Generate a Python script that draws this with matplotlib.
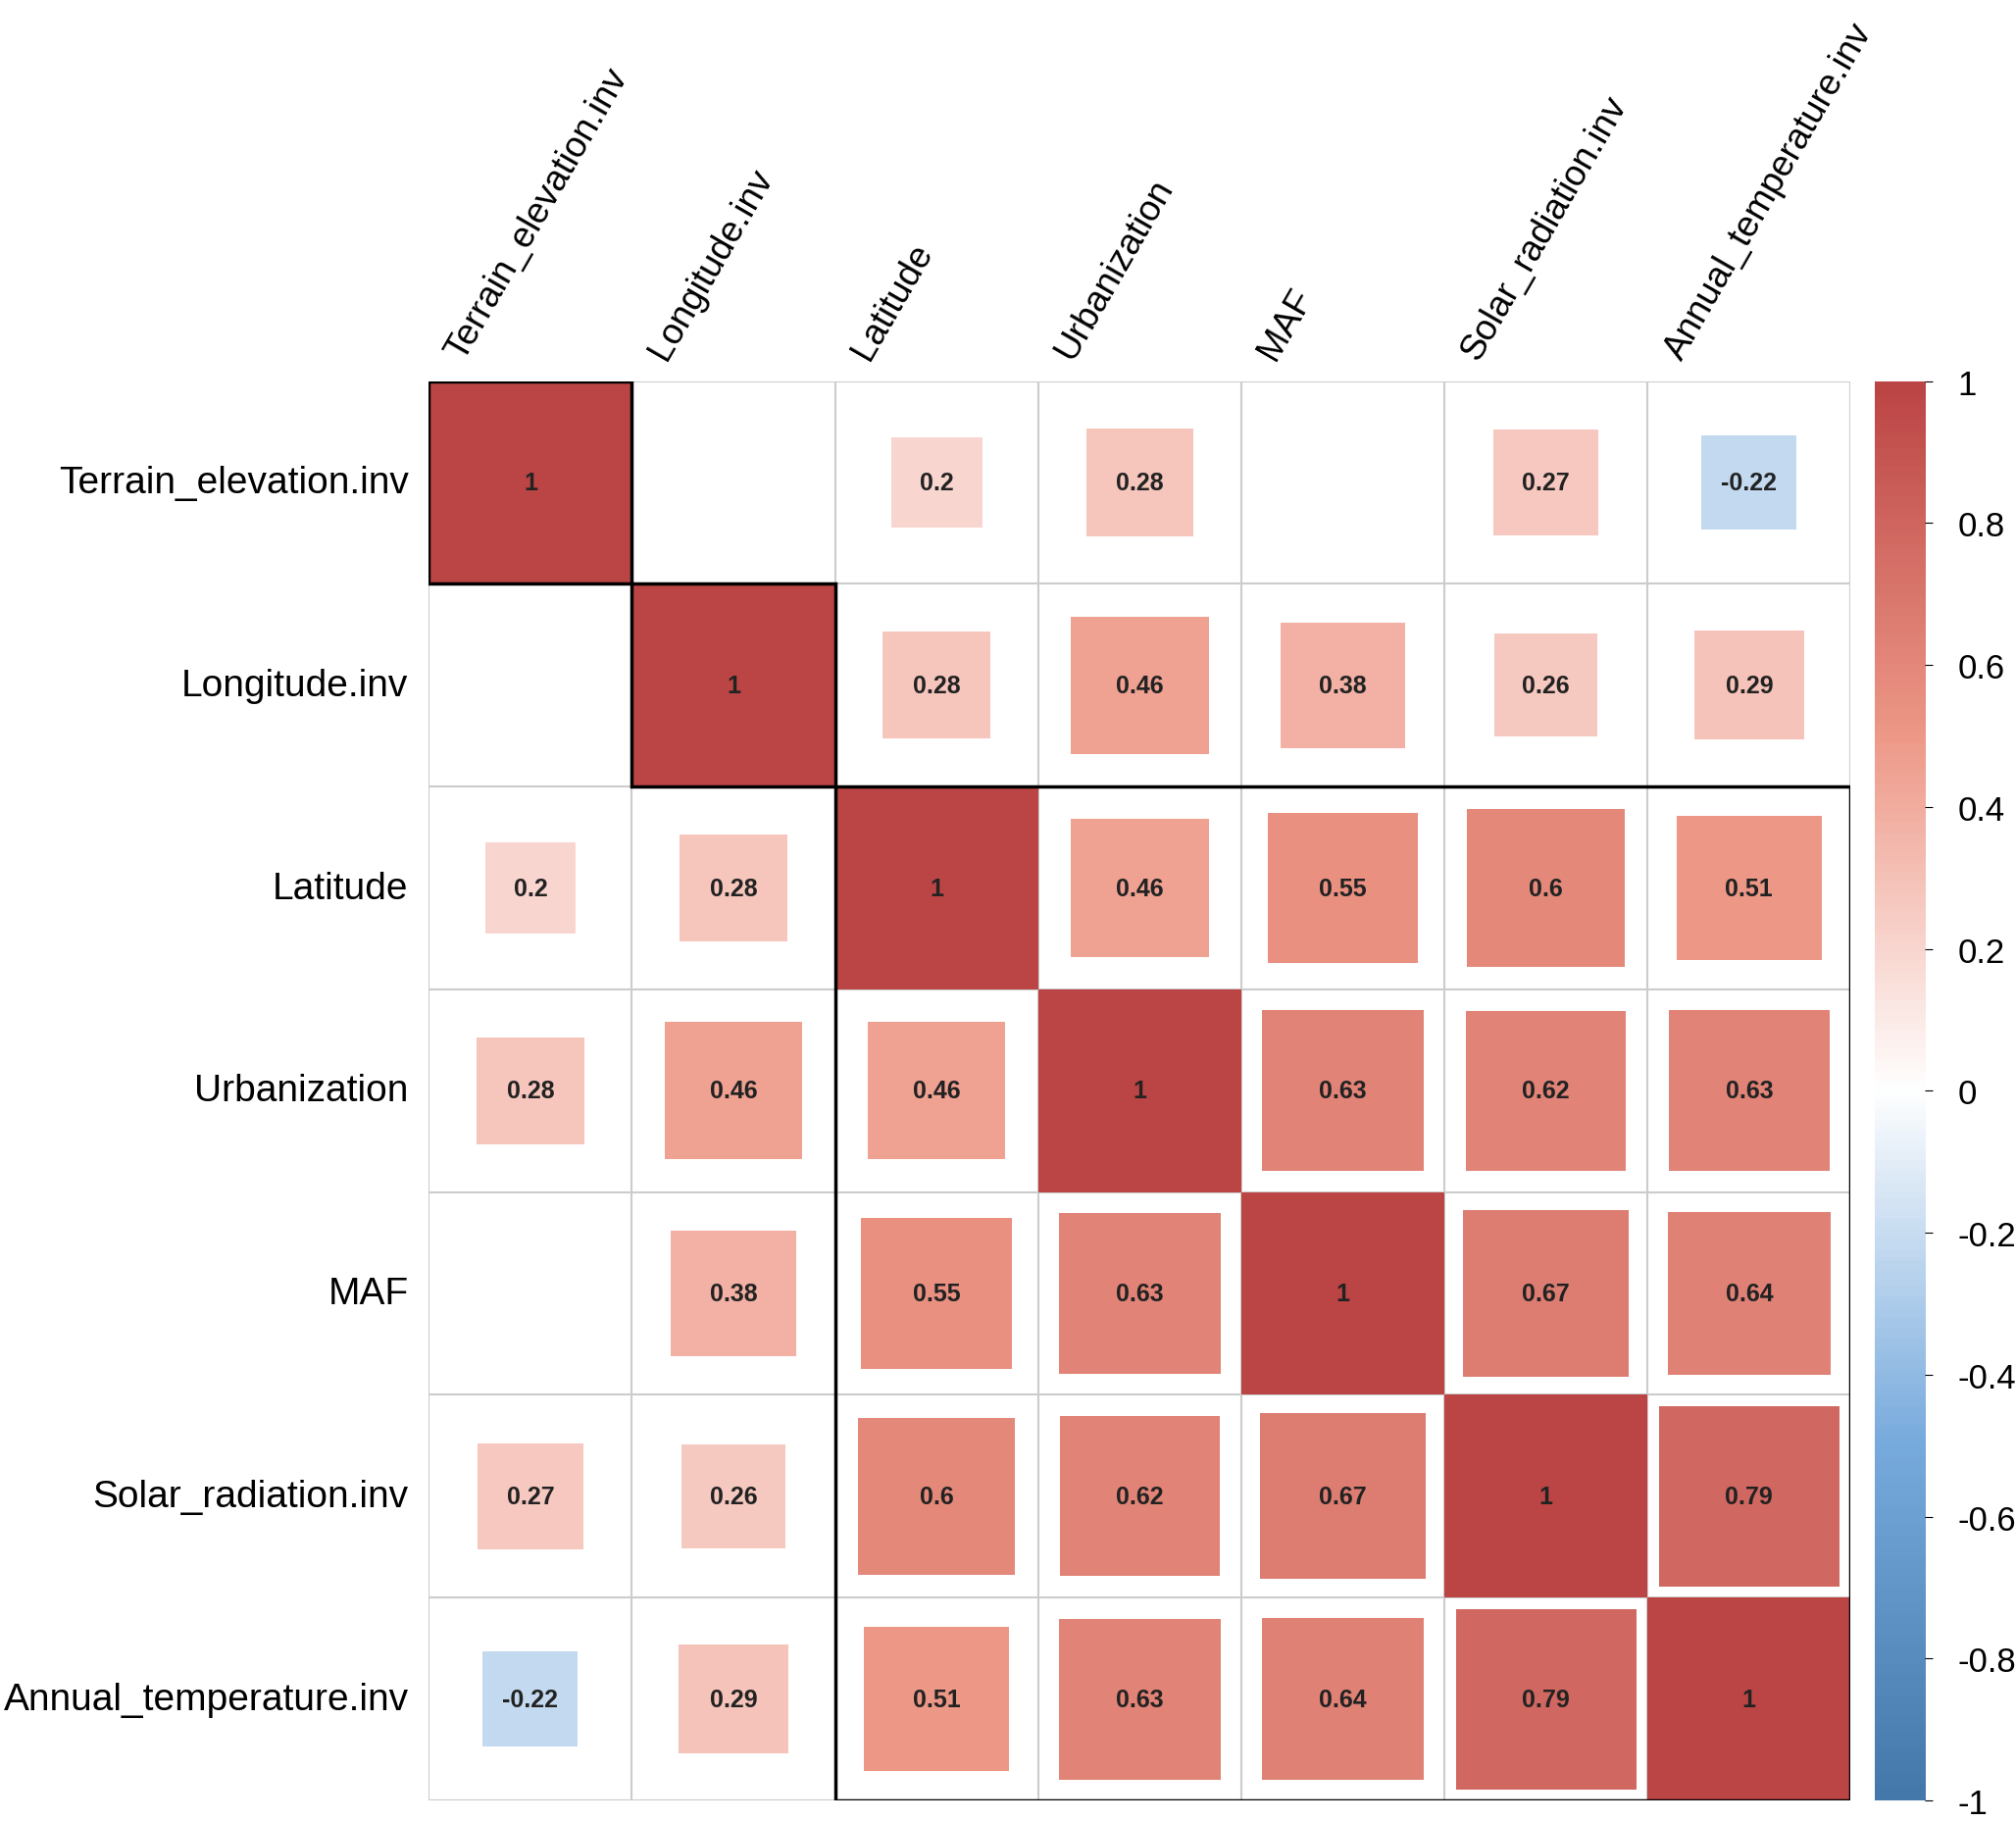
import numpy as np
import matplotlib
matplotlib.use("Agg")
import matplotlib.pyplot as plt
from matplotlib.colors import LinearSegmentedColormap, Normalize
from matplotlib.patches import Rectangle

plt.rcParams['font.family'] = ['Liberation Sans', 'DejaVu Sans']

labels = ["Terrain_elevation.inv", "Longitude.inv", "Latitude", "Urbanization",
          "MAF", "Solar_radiation.inv", "Annual_temperature.inv"]
nan = np.nan
corr = np.array([
    [1, nan, 0.2, 0.28, nan, 0.27, -0.22],
    [nan, 1, 0.28, 0.46, 0.38, 0.26, 0.29],
    [0.2, 0.28, 1, 0.46, 0.55, 0.6, 0.51],
    [0.28, 0.46, 0.46, 1, 0.63, 0.62, 0.63],
    [nan, 0.38, 0.55, 0.63, 1, 0.67, 0.64],
    [0.27, 0.26, 0.6, 0.62, 0.67, 1, 0.79],
    [-0.22, 0.29, 0.51, 0.63, 0.64, 0.79, 1],
])
clusters = [(0, 1), (1, 2), (2, 7)]
cbar_ticks = [1, 0.8, 0.6, 0.4, 0.2, 0, -0.2, -0.4, -0.6, -0.8, -1]

cmap = LinearSegmentedColormap.from_list("c", ["#4477AA", "#77AADD", "#FFFFFF", "#EE9988", "#BB4444"])
norm = Normalize(-1, 1)
n = len(labels)

fig = plt.figure(figsize=(20.56, 18.58), dpi=100)
ax = fig.add_axes([0.2127, 0.0113, 0.918 - 0.2127, 0.779])
ax.set_xlim(0, n); ax.set_ylim(n, 0)
ax.axis("off")
for k in range(n + 1):
    ax.plot([k, k], [0, n], color="#cccccc", lw=1.5, zorder=1)
    ax.plot([0, n], [k, k], color="#cccccc", lw=1.5, zorder=1)
for i in range(n):
    for j in range(n):
        v = corr[i, j]
        if np.isnan(v):
            continue
        s = np.sqrt(abs(v))
        ax.add_patch(Rectangle((j + 0.5 - s / 2, i + 0.5 - s / 2), s, s,
                               facecolor=cmap(norm(v)), edgecolor="none", zorder=2))
        ax.text(j + 0.5, i + 0.5, f"{v:g}", ha="center", va="center",
                fontsize=18, fontweight="bold", color="#222222", zorder=3)
for a, b in clusters:
    ax.add_patch(Rectangle((a, a), b - a, b - a, fill=False, edgecolor="black", lw=2.5, zorder=4))
for i, l in enumerate(labels):
    ax.text(-0.1, i + 0.5, l, ha="right", va="center", fontsize=28)
    ax.text(i + 0.2, -0.08, l, ha="left", va="bottom", fontsize=26.5, rotation=60,
            rotation_mode="anchor")

cax = fig.add_axes([0.930, 0.0113, 0.025, 0.779])
grad = np.linspace(1, -1, 400).reshape(-1, 1)
cax.imshow(grad, aspect="auto", cmap=cmap, norm=norm, extent=[0, 1, -1, 1])
cax.set_xticks([])
cax.yaxis.tick_right()
cax.set_yticks(cbar_ticks)
cax.set_yticklabels([f"{t:g}" for t in cbar_ticks], fontsize=25)
cax.tick_params(axis="y", length=6, pad=18)
for sp in cax.spines.values():
    sp.set_visible(False)

fig.savefig("out.png", dpi=100)
